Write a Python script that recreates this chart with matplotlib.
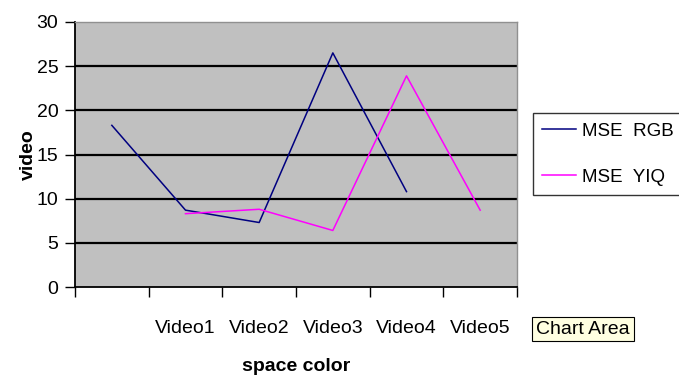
import numpy as np
import matplotlib.pyplot as plt

plt.rcParams['font.family'] = ['Liberation Sans', 'DejaVu Sans']

categories = ["", "Video1", "Video2", "Video3", "Video4", "Video5"]
mse_rgb = [18.3, 8.7, 7.3, 26.5, 10.8, np.nan]
mse_yiq = [np.nan, 8.3, 8.8, 6.4, 23.9, 8.7]
y_ticks = [0, 5, 10, 15, 20, 25, 30]

x = np.arange(len(categories))

fig = plt.figure(figsize=(6.79, 3.84), dpi=100)
ax = fig.add_axes([75 / 679, 97 / 384, 442 / 679, 265 / 384])
ax.set_facecolor('#c0c0c0')

# horizontal grid drawn as solid black rules
for y in y_ticks[1:-1]:
    ax.axhline(y, color='black', lw=1.6, zorder=1)

ax.plot(x, mse_rgb, color='#000080', lw=1.1, label='MSE  RGB', zorder=3)
ax.plot(x, mse_yiq, color='#ff00ff', lw=1.1, label='MSE  YIQ', zorder=3)

ax.set_xlim(-0.5, len(categories) - 0.5)
ax.set_ylim(0, 30)
ax.set_yticks(y_ticks)
ax.set_xticks(np.arange(len(categories) + 1) - 0.5)
ax.set_xticklabels([])
ax.set_xticks(x, categories, minor=True)
ax.tick_params(axis='x', which='minor', length=0, pad=24, labelsize=14)
ax.tick_params(axis='x', which='major', length=7, width=1, direction='out')
ax.tick_params(axis='y', length=7, width=1, direction='out', labelsize=14, pad=5)

for side in ['left', 'bottom']:
    ax.spines[side].set_color('black')
    ax.spines[side].set_linewidth(1.3)
for side in ['top', 'right']:
    ax.spines[side].set_color('#909090')
    ax.spines[side].set_linewidth(1)

ax.set_xlabel('space color', fontsize=14, fontweight='bold', labelpad=15)
ax.set_ylabel('video', fontsize=14, fontweight='bold', labelpad=0)

leg = ax.legend(loc='upper left', bbox_to_anchor=(533 / 679, 1 - 113 / 384),
                bbox_transform=fig.transFigure, fontsize=13.5, frameon=True,
                fancybox=False, edgecolor='black', handlelength=1.8,
                handletextpad=0.3, borderpad=0.5, labelspacing=1.55, borderaxespad=0)
leg.get_frame().set_linewidth(1)

fig.text(536 / 679, 1 - 329 / 384, 'Chart Area', fontsize=14, va='center', ha='left',
         bbox=dict(boxstyle='square,pad=0.2', facecolor='#ffffe1', edgecolor='black', lw=0.8))

fig.savefig('out.png', dpi=100)
